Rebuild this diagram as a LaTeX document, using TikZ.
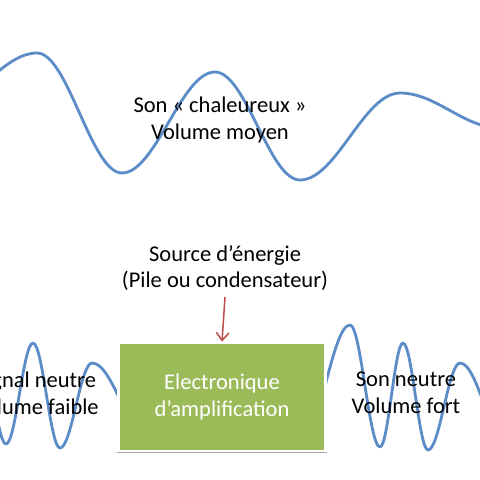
\documentclass[tikz,border=0pt]{standalone}
\usepackage{fontspec}
\setmainfont{Carlito}
\usepackage{tikz}
\usetikzlibrary{positioning, arrows.meta, shadows}
\definecolor{wavecolor}{HTML}{5B8CC8}
\definecolor{ampgreen}{HTML}{9BBB59}
\definecolor{energyred}{HTML}{C0504D}
\tikzset{
	wave/.style={
			draw=wavecolor,
			line width=2pt,
			line cap=round,
			line join=round
		},
	ampbox/.style={
			shape=rectangle,
			fill=ampgreen,
			draw=white,
			line width=2pt,
			minimum width=5.175cm,
			minimum height=2.7cm,
			inner sep=0pt,
			text=white,
			align=center,
			drop shadow={shadow xshift=0pt, shadow yshift=-1.2pt, shadow scale=1.01, opacity=0.35, fill=black}
		},
	soundtext/.style={
			align=center,
			text=black,
			inner sep=0pt
		},
	energyarrow/.style={
			draw=energyred,
			line width=1.1pt,
			-{Straight Barb[length=5.5pt, width=9pt]}
		}
}

\begin{document}
\begin{tikzpicture}[x=0.025cm, y=-0.025cm, font=\fontsize{16}{19}\selectfont]

  \useasboundingbox (0,0) rectangle (480,480);
  \clip (0,0) rectangle (480,480);

  % waves
  \draw[wave] (-51,98) cos (-7,75.5) sin (37,53) cos (79.5,113) sin (122,173)
    cos (168.5,122.5) sin (215,72) cos (257.5,126) sin (300,180)
    cos (350,136.5) sin (400,93) cos (450,110.5) sin (500,128);
  \draw[wave] (-20,343) cos (-7,393.5) sin (6,444) cos (19.5,393.5) sin (33,343)
    cos (46.5,395.5) sin (60,448) cos (76,405.5) sin (92,363) cos (122,404);
  \draw[wave] (300,447) cos (325,386) sin (350,325) cos (365,386) sin (380,447)
    cos (391.5,395) sin (403,343) cos (415.5,396.5) sin (428,450)
    cos (444,406.5) sin (460,363) cos (485,406.5) sin (510,450);

  \node[soundtext] (warm) at (220,120) {Son «~chaleureux~»\\Volume moyen};
  \node[soundtext] (weak) at (36,393) {Signal neutre\\Volume faible};
  \node[soundtext] (loud) at (406,393) {Son neutre\\Volume fort};

  \node[soundtext] (source) at (225,268) {Source d’énergie\\(Pile ou condensateur)};
  \node[ampbox] (ampli) at (222,397) {\raisebox{-2pt}{Electronique}\\\raisebox{-2pt}{d’amplification}};

  \draw[energyarrow] (source.south) ++(0,6) -- (ampli.north);

\end{tikzpicture}
\end{document}
